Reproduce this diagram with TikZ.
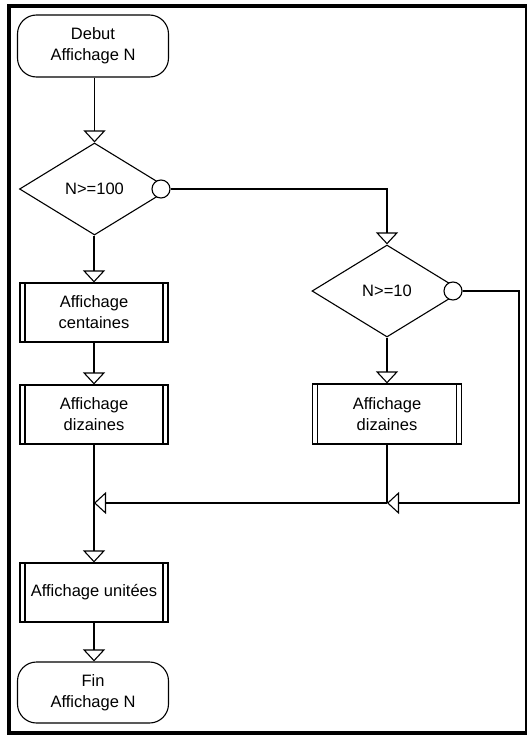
\documentclass[tikz,border=0pt]{standalone}
\usepackage{fontspec}
\setmainfont{Liberation Sans}
\usetikzlibrary{shapes.geometric,arrows.meta}
\begin{document}
\begin{tikzpicture}[x=1pt,y=-1pt,
  every node/.style={font=\fontsize{16.5}{21}\selectfont, align=center, line width=1.1pt, inner sep=0pt},
  term/.style={draw, rectangle, rounded corners=19pt, minimum width=151pt, minimum height=62pt},
  proc/.style={draw, rectangle, minimum width=148pt, minimum height=59pt,
    path picture={
      \draw[line width=1.1pt] ([xshift=5pt]path picture bounding box.north west) -- ([xshift=5pt]path picture bounding box.south west);
      \draw[line width=1.1pt] ([xshift=-5pt]path picture bounding box.north east) -- ([xshift=-5pt]path picture bounding box.south east);
    }},
  dec/.style={draw, diamond, minimum width=150pt, minimum height=92pt},
  conn/.style={draw, circle, fill=white, minimum size=18pt},
  wire/.style={line width=1.1pt},
  arr/.style={wire, -{Triangle[open,length=12pt,width=22pt]}}
]
\useasboundingbox (0,0) rectangle (528,736);
% frame
\fill[black] (7,4) rectangle (527,735);
\fill[white] (11,8) rectangle (525,731);

% nodes
\node[term] (start) at (93,46) {Debut\\Affichage N};
\node[dec] (d1) at (94.5,189) {N>=100};
\node[conn] (c1) at (161,189) {};
\node[proc] (cent) at (94,312.5) {Affichage\\centaines};
\node[proc] (dizL) at (94,414.5) {Affichage\\dizaines};
\node[dec] (d2) at (387,291) {N>=10};
\node[conn] (c2) at (453,291) {};
\node[proc, minimum width=149pt, minimum height=60pt] (dizR) at (387,414) {Affichage\\dizaines};
\node[proc] (unit) at (94,592.5) {Affichage unitées};
\node[term, minimum height=61pt] (fin) at (93,692.5) {Fin\\Affichage N};

\coordinate (j1) at (94,503);
\coordinate (j2) at (387,503);
\coordinate (r1) at (519,503);

% connectors
\draw[arr] (start.south -| d1.north) -- (d1.north);
\draw[arr] (c1.east) -| (d2.north);
\draw[arr] (d1.south -| cent.north) -- (cent.north);
\draw[arr] (cent.south) -- (dizL.north);
\draw[arr] (d2.south) -- (dizR.north);
\draw[wire] (dizR.south) -- (j2);
\draw[arr] (c2.east) -| (r1) -- (j2);
\draw[arr] (j2) -- (j1);
\draw[arr] (dizL.south) -- (unit.north);
\draw[arr] (unit.south) -- (fin.north -| unit.south);
\end{tikzpicture}
\end{document}
